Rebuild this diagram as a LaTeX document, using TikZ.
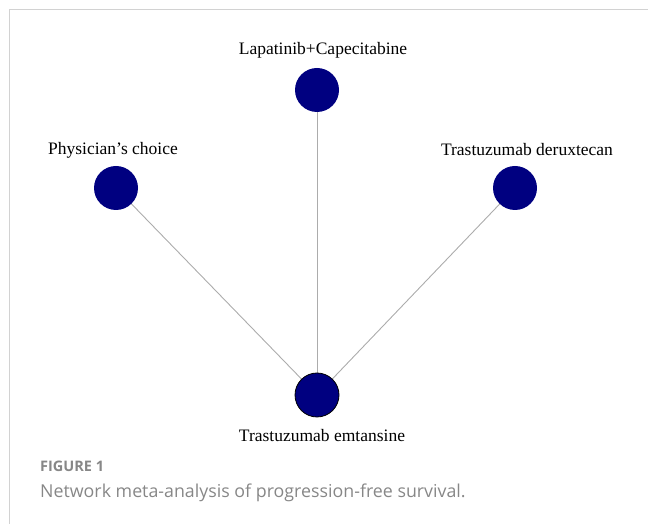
\documentclass[tikz,border=0pt]{standalone}
\usepackage{fontspec}
\setmainfont{Liberation Serif}
\newfontfamily\capfont{Open Sans}
\usepackage{tkz-euclide}

\definecolor{netnavy}{RGB}{0,0,128}
\definecolor{framegray}{RGB}{210,210,210}
\definecolor{capgray}{RGB}{135,135,135}

\tikzset{
  treat/.style = {circle, fill=netnavy, minimum size=44pt, inner sep=0pt},
  treatlbl/.style = {font=\fontsize{17.5}{20}\selectfont, inner sep=0pt},
  edge/.style = {draw=gray!65, line width=0.9pt}
}

\begin{document}
\begin{tikzpicture}[x=1pt,y=1pt]
                \useasboundingbox (0,0) rectangle (648,524);
                \draw[framegray, line width=1pt] (648,514) -- (9,514) -- (9,0);
                \tkzDefPoints{317/434/L,116/336/P,515/336/D,317/129/E}
                \tkzDrawSegments[edge](E,L E,P E,D)
                \node[treat] (lap) at (L) {};
                \node[treat] (phy) at (P) {};
                \node[treat] (der) at (D) {};
                \node[treat, draw=black, line width=0.8pt] (emt) at (E) {};
                \node[treatlbl] (laplbl) at (323,474) {Lapatinib+Capecitabine};
                \node[treatlbl] (phylbl) at (113,374) {Physician’s choice};
                \node[treatlbl] (derlbl) at (527,374) {Trastuzumab deruxtecan};
                \node[treatlbl] (emtlbl) at (322,88) {Trastuzumab emtansine};
                \node[anchor=west, inner sep=0pt, text=capgray,
                      font=\capfont\fontsize{14.5}{18}\selectfont\bfseries] (fig) at (40,58) {FIGURE 1};
                \node[anchor=west, inner sep=0pt, text=capgray,
                      font=\capfont\fontsize{17.8}{20}\selectfont] (cap) at (40,31) {Network meta-analysis of progression-free survival.};
            \end{tikzpicture}
\end{document}
